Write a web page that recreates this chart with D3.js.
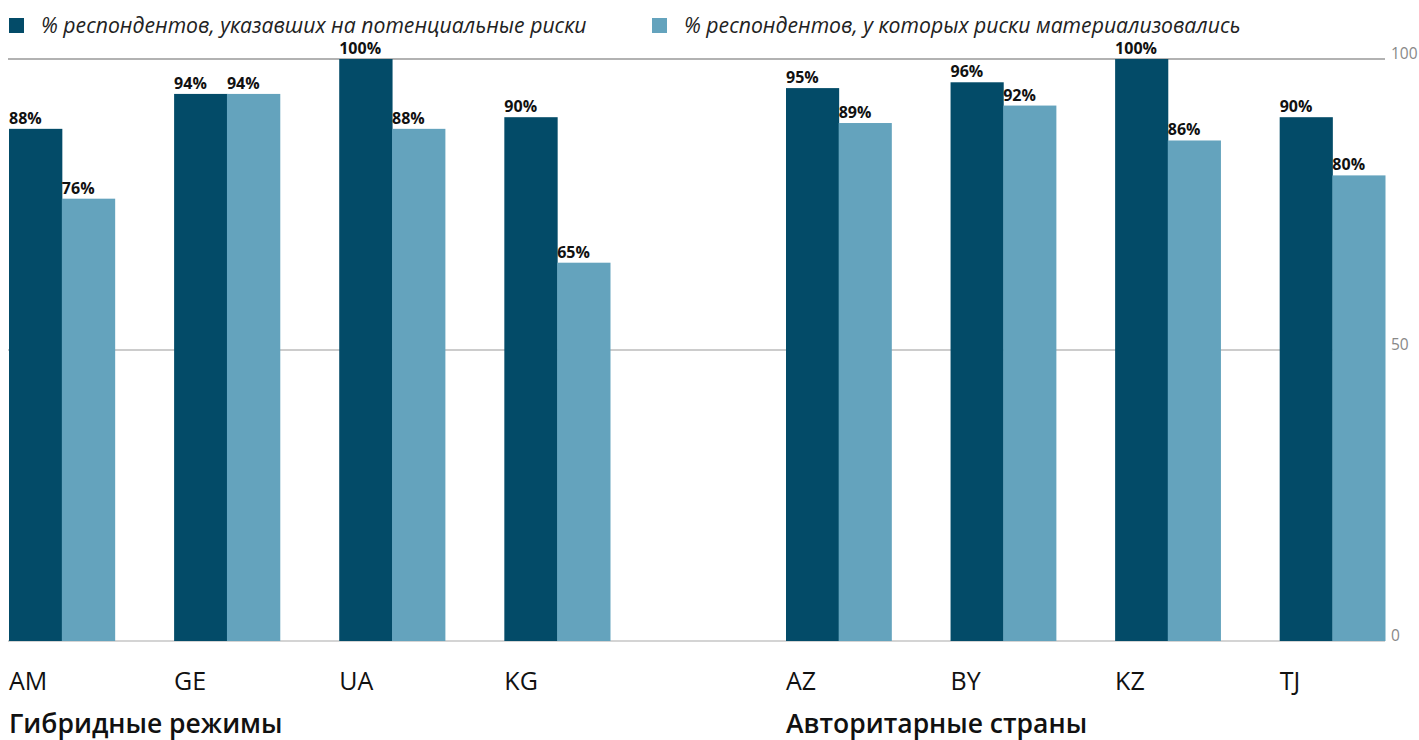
<!DOCTYPE html>
<html>
<head>
<meta charset="utf-8">
<script src="https://cdn.jsdelivr.net/npm/d3@7"></script>
<style>
  body { margin: 0; background: #fff; font-family: "Open Sans", sans-serif; }
  .val { font-weight: 700; font-size: 16px; fill: #111; }
  .cat { font-size: 25px; fill: #111; }
  .grp { font-size: 26.5px; font-weight: 600; fill: #111; }
  .leg { font-size: 21.2px; font-style: italic; fill: #222; }
  .tick { font-size: 15.5px; fill: #888; }
</style>
</head>
<body>
<svg id="chart" width="1419" height="740"></svg>
<script>
// данные
const hybrid = ["AM", "GE", "UA", "KG"];
const authoritarian = ["AZ", "BY", "KZ", "TJ"];
const groupNames = ["Гибридные режимы", "Авторитарные страны"];
const seriesNames = ["% респондентов, указавших на потенциальные риски", "% респондентов, у которых риски материализовались"];
const potential = { AM: 88, GE: 94, UA: 100, KG: 90, AZ: 95, BY: 96, KZ: 100, TJ: 90 };
const materialized = { AM: 76, GE: 94, UA: 88, KG: 65, AZ: 89, BY: 92, KZ: 86, TJ: 80 };
const yTicks = [0, 50, 100];

const colors = ["#034b68", "#64a3bd"];
const svg = d3.select("#chart");

const yScale = d3.scaleLinear().domain([0, 100]).range([641, 59]);
const left = 8, right = 1385;

// сетка
svg.selectAll(".grid")
  .data(yTicks)
  .enter().append("line")
    .attr("class", "grid")
    .attr("x1", left).attr("x2", right)
    .attr("y1", d => yScale(d)).attr("y2", d => yScale(d))
    .attr("stroke", d => d === 100 ? "#666" : (d === 0 ? "#aaa" : "#999"))
    .attr("stroke-width", 1.2);

svg.selectAll(".tick")
  .data(yTicks)
  .enter().append("text")
    .attr("class", "tick")
    .attr("x", 1391)
    .attr("y", d => yScale(d) - 0.5)
    .text(d => d);

// две группы стран, каждая со своей band-шкалой
const groups = [
  { name: groupNames[0], cats: hybrid, range: [9, 610] },
  { name: groupNames[1], cats: authoritarian, range: [786, 1385] }
];

groups.forEach(function(g) {
  const x0 = d3.scaleBand().domain(g.cats).range(g.range).paddingInner(0.36).paddingOuter(0);
  const x1 = d3.scaleBand().domain([0, 1]).range([0, x0.bandwidth()]);

  const cell = svg.append("g").selectAll("g")
    .data(g.cats)
    .enter().append("g")
      .attr("transform", d => "translate(" + x0(d) + ",0)");

  const bars = cell.selectAll(".bar")
    .data(d => [potential[d], materialized[d]].map((v, i) => ({ v: v, i: i })))
    .enter();

  bars.append("rect")
    .attr("x", d => x1(d.i))
    .attr("y", d => yScale(d.v))
    .attr("width", x1.bandwidth() + 0.5)
    .attr("height", d => yScale(0) - yScale(d.v))
    .attr("fill", d => colors[d.i]);

  bars.append("text")
    .attr("class", "val")
    .attr("x", d => x1(d.i))
    .attr("y", d => yScale(d.v) - 5)
    .text(d => d.v + "%");

  cell.append("text")
    .attr("class", "cat")
    .attr("x", 0)
    .attr("y", 690)
    .text(d => d);

  svg.append("text")
    .attr("class", "grp")
    .attr("x", g.range[0])
    .attr("y", 733)
    .text(g.name);
});

// легенда
const legX = [9, 652];
const legend = svg.selectAll(".legend")
  .data(seriesNames)
  .enter().append("g")
    .attr("class", "legend")
    .attr("transform", (d, i) => "translate(" + legX[i] + ",18)");

legend.append("rect")
  .attr("width", 15).attr("height", 15)
  .attr("fill", (d, i) => colors[i]);

legend.append("text")
  .attr("class", "leg")
  .attr("x", 32)
  .attr("y", 14.5)
  .text(d => d);
</script>
</body>
</html>
